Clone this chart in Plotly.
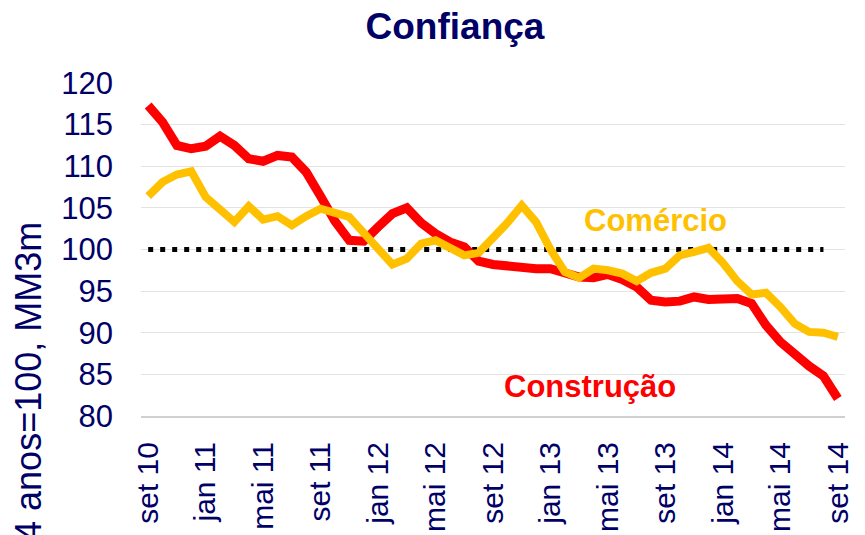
import plotly.graph_objects as go

months = [
    "set 10", "out 10", "nov 10", "dez 10",
    "jan 11", "fev 11", "mar 11", "abr 11", "mai 11", "jun 11", "jul 11", "ago 11",
    "set 11", "out 11", "nov 11", "dez 11",
    "jan 12", "fev 12", "mar 12", "abr 12", "mai 12", "jun 12", "jul 12", "ago 12",
    "set 12", "out 12", "nov 12", "dez 12",
    "jan 13", "fev 13", "mar 13", "abr 13", "mai 13", "jun 13", "jul 13", "ago 13",
    "set 13", "out 13", "nov 13", "dez 13",
    "jan 14", "fev 14", "mar 14", "abr 14", "mai 14", "jun 14", "jul 14", "ago 14",
    "set 14",
]

construcao = [
    117.3, 115.3, 112.5, 112.1, 112.4, 113.6, 112.5, 110.9, 110.6, 111.3,
    111.1, 109.3, 106.4, 103.4, 101.1, 101.0, 102.7, 104.3, 105.0, 103.2,
    101.9, 100.9, 100.3, 98.6, 98.2, 98.0, 98.0, 97.7, 97.7, 97.1,
    96.7, 96.6, 97.0, 96.4, 95.5, 93.9, 93.7, 93.8, 94.3, 94.0,
    94.0, 94.1, 93.5, 90.9, 88.9, 87.3, 86.0, 84.8, 82.1,
]

comercio = [
    106.4, 108.1, 109.0, 109.4, 106.3, 104.9, 103.3, 105.2, 103.6, 104.0,
    102.9, 104.0, 104.9, 104.4, 103.9, 102.0, 100.1, 98.2, 98.9, 100.7,
    101.1, 100.3, 99.3, 99.6, 101.3, 103.2, 105.3, 103.3, 100.0, 97.3,
    96.6, 97.7, 97.5, 97.1, 96.2, 97.2, 97.7, 99.3, 99.7, 100.2,
    98.4, 96.2, 94.6, 94.8, 93.1, 91.1, 90.1, 90.0, 89.5,
]

reference_level = 100
tick_labels = months[::4]
y_ticks = [80, 85, 90, 95, 100, 105, 110, 115, 120]

NAVY = "#000066"
RED = "#FF0000"
GOLD = "#FFC000"
FONT = "Liberation Sans, Arial, sans-serif"

# the page body adds an 8px offset; margins below compensate for it
L, T, W, H = 133, 75, 704, 333

fig = go.Figure()

fig.add_trace(go.Scatter(
    x=[months[0], months[47]], y=[reference_level, reference_level],
    mode="lines", line=dict(color="black", width=5, dash="5px,7px"),
    hoverinfo="skip", showlegend=False,
))
fig.add_trace(go.Scatter(
    x=months, y=construcao, mode="lines", name="Construção",
    line=dict(color=RED, width=9), showlegend=False,
))
fig.add_trace(go.Scatter(
    x=months, y=comercio, mode="lines", name="Comércio",
    line=dict(color=GOLD, width=8), showlegend=False,
))

fig.update_layout(
    width=865, height=535,
    margin=dict(l=L, r=865 - L - W, t=T, b=535 - T - H, autoexpand=False),
    paper_bgcolor="white", plot_bgcolor="white",
    font=dict(family=FONT, color=NAVY),
    title=dict(
        text="<b>Confiança</b>", font=dict(size=37, color=NAVY, family=FONT),
        x=0.446, xref="paper", xanchor="center",
        y=1 - 18 / 535, yref="container", yanchor="middle",
    ),
    xaxis=dict(
        type="category", categoryorder="array", categoryarray=months,
        range=[-0.5, len(months) - 0.5], automargin=False,
        tickmode="array", tickvals=tick_labels, ticktext=tick_labels,
        tickangle=-90, tickfont=dict(size=30, color=NAVY, family=FONT),
        showgrid=False, zeroline=False, ticks="",
        showline=True, linecolor="#d0d0d0", linewidth=2,
        ticklabelstandoff=12,
    ),
    yaxis=dict(
        range=[80, 120], tickmode="array", tickvals=y_ticks, automargin=False,
        tickfont=dict(size=31, color=NAVY, family=FONT),
        showgrid=True, gridcolor="#e3e3e3", gridwidth=1,
        zeroline=False, ticks="", showline=False,
        ticklabelstandoff=27,
    ),
    annotations=[
        dict(text="<b>Comércio</b>", x=(655 - 141) / W, y=(416 - 220) / H,
             xref="paper", yref="paper", xanchor="center", yanchor="middle",
             showarrow=False, font=dict(size=31, color=GOLD, family=FONT)),
        dict(text="<b>Construção</b>", x=(590 - 141) / W, y=(416 - 386) / H,
             xref="paper", yref="paper", xanchor="center", yanchor="middle",
             showarrow=False, font=dict(size=31, color=RED, family=FONT)),
        dict(text="Média 4 anos=100, MM3m", textangle=-90,
             x=(28 - 141) / W, y=(416 - 436) / H,
             xref="paper", yref="paper", xanchor="center", yanchor="middle",
             showarrow=False, font=dict(size=36, color=NAVY, family=FONT)),
    ],
)

fig.write_html("out.html")
